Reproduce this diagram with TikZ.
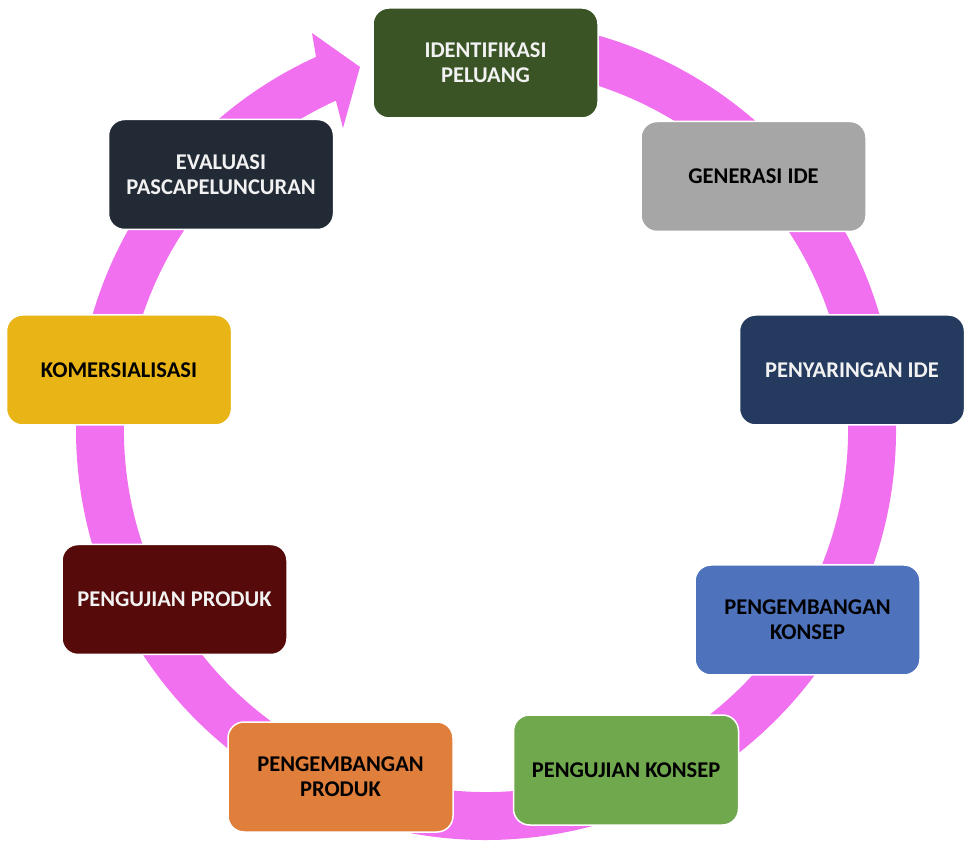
\documentclass[tikz,border=0pt]{standalone}
\usepackage{fontspec}
\setmainfont{Carlito}
\definecolor{ringpink}{RGB}{240,112,240}
\definecolor{cA}{RGB}{58,84,38}
\definecolor{cB}{RGB}{166,166,166}
\definecolor{cC}{RGB}{36,58,94}
\definecolor{cD}{RGB}{78,115,188}
\definecolor{cE}{RGB}{112,168,78}
\definecolor{cF}{RGB}{224,126,60}
\definecolor{cG}{RGB}{86,10,10}
\definecolor{cH}{RGB}{232,180,22}
\definecolor{cI}{RGB}{34,42,53}
\definecolor{lighttext}{RGB}{242,242,242}
\tikzset{
  stagebox/.style={draw=white, line width=1.5pt, rounded corners=16pt,
    minimum width=225pt, minimum height=110pt, align=center,
    font=\fontsize{22.5}{25}\selectfont\bfseries, inner sep=4pt},
}
\begin{document}
\begin{tikzpicture}[x=1pt,y=1pt]
\useasboundingbox (0,0) rectangle (965,840);
\coordinate (ctr) at (486,410);
% ring with arrowhead
\fill[ringpink] ([shift={(95:410)}]ctr) arc[start angle=95, end angle=-245.5, radius=410]
  -- (312,807) -- (360,773) -- (343,712)
  -- ([shift={(114.5:362)}]ctr) arc[start angle=114.5, end angle=455, radius=362] -- cycle;
% boxes
\node[stagebox, fill=cA, text=lighttext] (a) at (485.5,777) {IDENTIFIKASI\\PELUANG};
\node[stagebox, fill=cB, text=black] (b) at (753.5,663.5) {GENERASI IDE};
\node[stagebox, fill=cC, text=lighttext] (c) at (852,470) {PENYARINGAN IDE};
\node[stagebox, fill=cD, text=black] (d) at (807.5,220) {PENGEMBANGAN\\KONSEP};
\node[stagebox, fill=cE, text=black] (e) at (626,70) {PENGUJIAN KONSEP};
\node[stagebox, fill=cF, text=black] (f) at (340.5,63) {PENGEMBANGAN\\PRODUK};
\node[stagebox, fill=cG, text=lighttext] (g) at (174.5,240.5) {PENGUJIAN PRODUK};
\node[stagebox, fill=cH, text=black] (h) at (119,470) {KOMERSIALISASI};
\node[stagebox, fill=cI, text=lighttext] (i) at (221,665.5) {EVALUASI\\PASCAPELUNCURAN};
\end{tikzpicture}
\end{document}
